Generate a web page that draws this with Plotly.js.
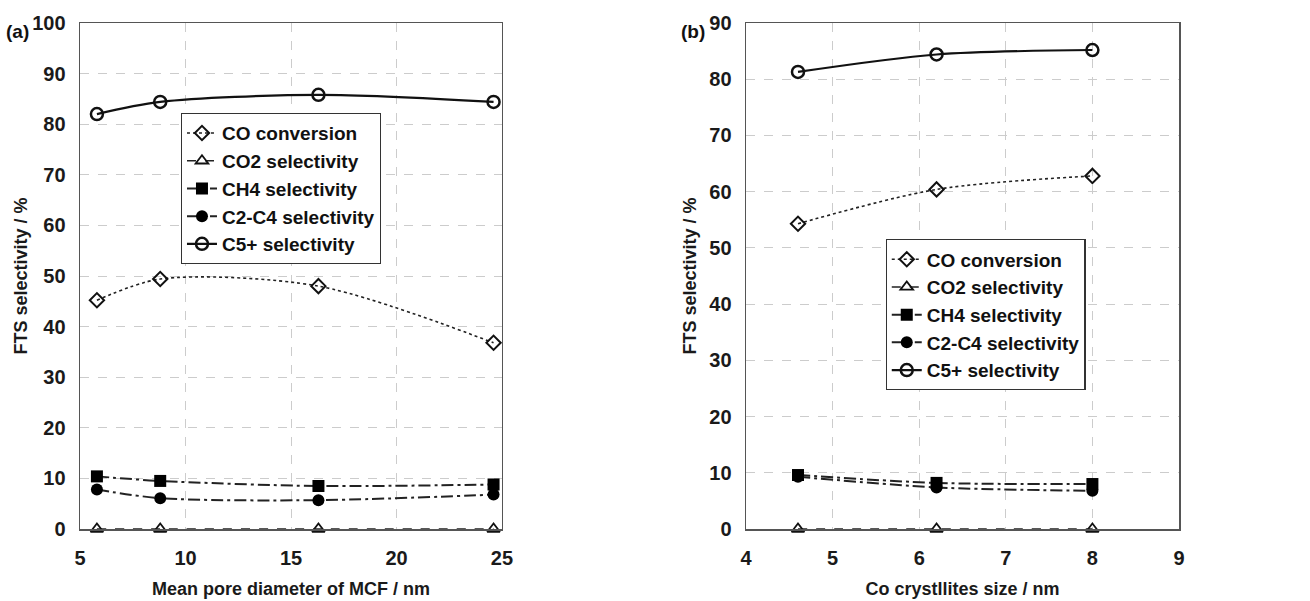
<!DOCTYPE html>
<html><head><meta charset="utf-8">
<script src="https://cdn.plot.ly/plotly-3.0.1.min.js"></script>
<style>html,body{margin:0;padding:0;background:#fff}#chart{width:1310px;height:601px}</style>
</head><body><div id="chart"></div>
<script>
// Panel (a): mean pore diameter of MCF
const poreDiameter = [5.8, 8.8, 16.3, 24.6];
const aCOconv = [45.2, 49.4, 48.0, 36.8];
const aCO2 = [0, 0, 0, 0];
const aCH4 = [10.4, 9.5, 8.5, 8.8];
const aC2C4 = [7.8, 6.1, 5.7, 6.8];
const aC5 = [82.0, 84.4, 85.8, 84.4];

// Panel (b): Co crystallite size
const crystSize = [4.6, 6.2, 8.0];
const bCOconv = [54.3, 60.4, 62.8];
const bCO2 = [0, 0, 0];
const bCH4 = [9.6, 8.2, 8.0];
const bC2C4 = [9.3, 7.4, 6.8];
const bC5 = [81.3, 84.4, 85.2];

const seriesNames = ["CO conversion", "CO2 selectivity", "CH4 selectivity", "C2-C4 selectivity", "C5+ selectivity"];

const FONT = "Liberation Sans, Arial, sans-serif";
const styles = [
  {line: {dash: "dot", width: 1.6, color: "#222", shape: "spline", smoothing: 0.85}, marker: {symbol: "diamond-open", size: 11, color: "#111", line: {width: 2}}},
  {line: {dash: "dash", width: 1.6, color: "#222", shape: "spline", smoothing: 0.85}, marker: {symbol: "triangle-up-open", size: 11, color: "#111", line: {width: 1.8}}},
  {line: {dash: "12px,4px,3px,4px", width: 2, color: "#222", shape: "spline", smoothing: 0.85}, marker: {symbol: "square", size: 12, color: "#000"}},
  {line: {dash: "12px,4px,3px,4px", width: 2, color: "#222", shape: "spline", smoothing: 0.85}, marker: {symbol: "circle", size: 12, color: "#000"}},
  {line: {dash: "solid", width: 2.2, color: "#111", shape: "spline", smoothing: 0.85}, marker: {symbol: "circle-open", size: 12, color: "#111", line: {width: 2.5}}}
];

function makeTraces(x, ys, xa, ya, legend) {
  return ys.map((y, i) => ({
    x: x, y: y, type: "scatter", mode: "lines+markers", name: seriesNames[i],
    xaxis: xa, yaxis: ya, legend: legend, cliponaxis: false,
    line: styles[i].line, marker: styles[i].marker
  }));
}

const traces = [
  ...makeTraces(poreDiameter, [aCOconv, aCO2, aCH4, aC2C4, aC5], "x", "y", "legend"),
  ...makeTraces(crystSize, [bCOconv, bCO2, bCH4, bC2C4, bC5], "x2", "y2", "legend2")
];

const tickFont = {family: FONT, size: 20, color: "#1a1a1a", weight: "bold"};
const titleFont = {family: FONT, size: 18, color: "#1a1a1a", weight: "bold"};
const axisCommon = {
  showline: true, mirror: true, linecolor: "#555", linewidth: 1.5,
  showgrid: true, gridcolor: "#cccccc", griddash: "dash", gridwidth: 1,
  zeroline: false, ticks: "", tickfont: tickFont, fixedrange: true, automargin: false
};
const legendCommon = {
  font: {family: FONT, size: 19, color: "#111", weight: "bold"},
  bgcolor: "#fff", bordercolor: "#333", borderwidth: 1.2,
  xanchor: "left", yanchor: "top", tracegroupgap: 0, itemwidth: 30
};

const layout = {
  width: 1310, height: 601,
  margin: {l: 0, r: 0, t: 0, b: 0},
  paper_bgcolor: "#fff", plot_bgcolor: "#fff",
  showlegend: true,
  xaxis: Object.assign({}, axisCommon, {domain: [0.0611, 0.3832], anchor: "y", range: [5, 25], dtick: 5, ticklabelstandoff: 10,
    title: {text: "Mean pore diameter of MCF / nm", font: titleFont, standoff: 15}}),
  yaxis: Object.assign({}, axisCommon, {domain: [0.1198, 0.9617], anchor: "x", range: [0, 100], dtick: 10, ticklabelstandoff: 9,
    title: {text: "FTS selectivity / %", font: titleFont, standoff: 0}}),
  xaxis2: Object.assign({}, axisCommon, {domain: [0.5695, 0.9], anchor: "y2", range: [4, 9], dtick: 1, ticklabelstandoff: 10,
    title: {text: "Co crystllites size / nm", font: titleFont, standoff: 15}}),
  yaxis2: Object.assign({}, axisCommon, {domain: [0.1198, 0.9617], anchor: "x2", range: [0, 90], dtick: 10, ticklabelstandoff: 9,
    title: {text: "FTS selectivity / %", font: titleFont, standoff: 8}}),
  legend: Object.assign({}, legendCommon, {x: 0.138, y: 0.812}),
  legend2: Object.assign({}, legendCommon, {x: 0.676, y: 0.602}),
  annotations: [
    {text: "(a)", x: 0.003, y: 0.947, xref: "paper", yref: "paper", showarrow: false, xanchor: "left", yanchor: "middle",
     font: {family: FONT, size: 19, color: "#111", weight: "bold"}},
    {text: "(b)", x: 0.518, y: 0.947, xref: "paper", yref: "paper", showarrow: false, xanchor: "left", yanchor: "middle",
     font: {family: FONT, size: 19, color: "#111", weight: "bold"}}
  ]
};

Plotly.newPlot("chart", traces, layout, {displayModeBar: false, staticPlot: true});
</script></body></html>
